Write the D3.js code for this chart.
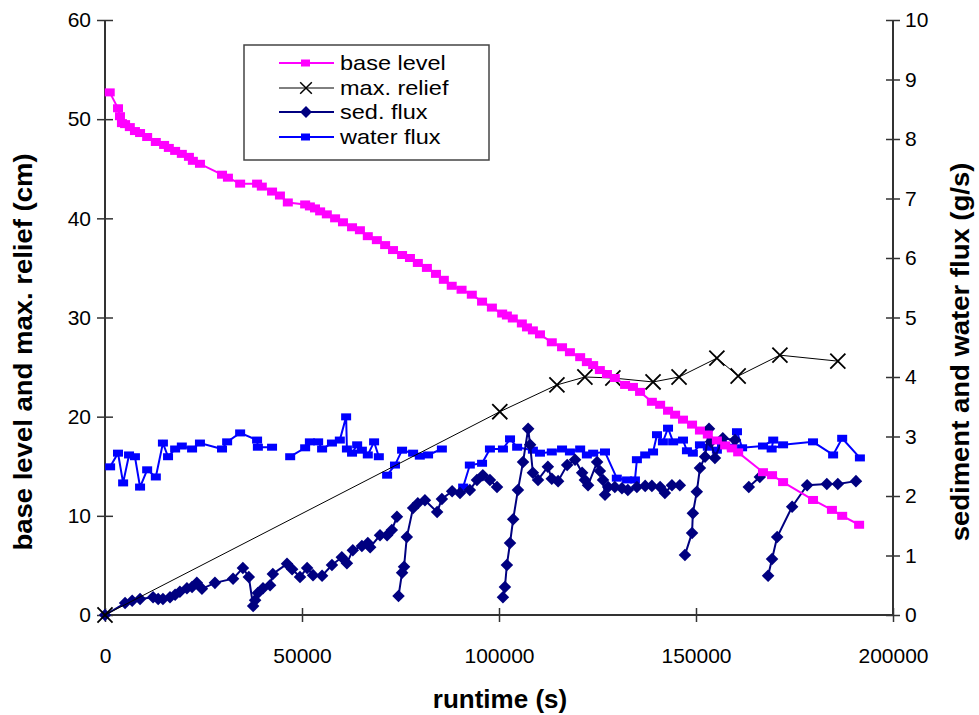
<!DOCTYPE html>
<html>
<head>
<meta charset="utf-8">
<script src="https://cdn.jsdelivr.net/npm/d3@7"></script>
<style>
  html, body { margin: 0; padding: 0; background: #fff; }
  svg { display: block; font-family: "Liberation Sans", Arial, sans-serif; }
</style>
</head>
<body>
<svg id="chart" width="979" height="715"></svg>
<script>
// Runtime (s) and base level (cm)
const baseTime = [1200,3300,3800,4300,5100,6300,7600,8900,10700,12900,15000,16200,17800,19500,21300,22300,24100,29700,31200,34300,38600,39800,42400,44400,46400,50800,52000,53300,54600,56300,58400,60400,62700,64700,66700,69000,71100,73100,75400,77400,79400,81700,84000,86000,88000,90500,93100,95700,98200,100800,102000,103500,105800,107100,108600,110400,113400,116000,118000,120600,122300,123900,125600,127400,129400,132000,134000,135800,138800,140900,142900,144700,146700,149000,151000,153000,155300,157400,159100,160700,167000,169300,172100,179700,184500,187100,191400];
const baseLevel = [52.7,51.1,50.3,49.6,49.5,49.2,48.8,48.6,48.2,47.7,47.4,47.1,46.8,46.5,46.2,45.8,45.5,44.4,44.1,43.5,43.5,43.2,42.7,42.3,41.6,41.4,41.2,41.0,40.7,40.4,40.0,39.6,39.1,38.8,38.2,37.8,37.3,36.8,36.3,36.0,35.5,35.0,34.4,33.8,33.2,32.8,32.3,31.6,31.0,30.4,30.2,29.9,29.4,29.0,28.7,28.3,27.5,27.0,26.5,26.0,25.5,25.2,24.7,24.3,23.9,23.2,23.0,22.5,21.5,21.2,20.6,20.2,19.7,19.2,18.6,18.2,17.6,17.1,16.8,16.4,14.4,14.1,13.4,11.6,10.6,10.0,9.1];

// Maximum relief (cm)
const reliefTime = [0,100200,114700,121800,128900,139100,145700,155300,160700,171300,186000];
const reliefVal = [0,20.5,23.2,24.0,23.9,23.5,24.0,25.9,24.1,26.2,25.6];

// Sediment flux (g/s); null marks a break between runs
const sedTime = [0,5100,6900,8900,12200,13500,14700,16500,17800,19000,20800,22100,23300,24600,27900,32500,35000,36500,37600,38100,38800,40100,41900,42600,46200,47500,49500,51300,52800,55100,57600,60100,61400,62900,65200,66700,67300,69800,71600,72800,74100,
  null,74500,75400,75900,76600,78200,79400,81200,84300,85500,88100,90100,92600,94400,95900,97700,99500,
  null,101000,101500,102000,102800,103600,104800,106100,107400,107900,108600,109900,112400,113400,115000,117300,119300,121100,121800,122600,124900,125600,126400,126900,127700,129400,131200,132700,135000,137100,138800,140900,142100,143900,145900,
  null,147200,149000,149200,150200,151000,152300,153300,153800,154800,156800,159900,
  null,163400,166200,
  null,168300,169300,170600,174400,178200,183200,186000,190600];
const sedVal = [0,0.20,0.24,0.27,0.30,0.27,0.27,0.30,0.34,0.39,0.45,0.47,0.54,0.44,0.54,0.61,0.79,0.64,0.15,0.25,0.37,0.45,0.50,0.69,0.86,0.77,0.64,0.79,0.67,0.66,0.84,0.97,0.87,1.09,1.16,1.21,1.14,1.34,1.34,1.43,1.65,
  null,0.32,0.71,0.81,1.31,1.80,1.88,1.93,1.73,1.95,2.08,2.05,2.10,2.27,2.35,2.27,2.15,
  null,0.30,0.47,0.84,1.21,1.61,2.10,2.57,3.13,2.86,2.39,2.27,2.49,2.29,2.25,2.52,2.61,2.39,2.27,2.18,2.57,2.42,2.27,2.02,2.15,2.15,2.13,2.10,2.15,2.17,2.17,2.15,2.05,2.18,2.18,
  null,1.01,1.38,1.71,2.07,2.47,2.66,3.13,2.91,2.64,2.97,2.94,
  null,2.15,2.32,
  null,0.66,0.94,1.31,1.82,2.18,2.20,2.20,2.25];

// Water flux (g/s); null marks a break between runs
const waterTime = [1300,3300,4600,6100,7600,8900,10700,12900,14700,16000,17800,19500,22100,24100,29700,31000,34300,38600,38800,42400,
  null,47000,50800,52000,54100,55100,57600,59600,61200,61400,62700,64000,65200,66700,68300,69500,
  null,71600,73600,75400,78200,79900,82000,85500,
  null,90900,92600,95700,97700,101000,102800,104600,108600,110400,113400,116000,118000,120600,122300,123900,126900,129900,132500,134500,135000,137100,139100,140100,141600,142900,144200,146700,147700,149200,151000,153000,155300,156600,159100,160400,161700,167000,169600,169200,172100,179700,184800,187100,191600];
const waterVal = [2.49,2.72,2.22,2.69,2.66,2.15,2.44,2.32,2.89,2.66,2.79,2.84,2.79,2.89,2.79,2.91,3.06,2.94,2.82,2.82,
  null,2.66,2.81,2.91,2.91,2.79,2.89,2.94,3.33,2.79,2.72,2.86,2.77,2.69,2.91,2.66,
  null,2.35,2.52,2.77,2.72,2.67,2.69,2.79,
  null,2.15,2.52,2.55,2.79,2.79,2.96,2.82,2.77,2.72,2.74,2.79,2.74,2.79,2.69,2.72,2.74,2.30,2.27,2.27,2.61,2.69,2.74,3.03,2.91,3.14,2.91,2.94,2.76,2.72,2.86,2.82,2.77,2.87,2.82,3.08,2.81,2.84,2.94,2.79,2.86,2.91,2.69,2.97,2.64];

// Axis ticks and labels
const xTicks = [0,50000,100000,150000,200000];
const yLeftTicks = [0,10,20,30,40,50,60];
const yRightTicks = [0,1,2,3,4,5,6,7,8,9,10];
const legendLabels = ["base level","max. relief","sed. flux","water flux"];

const svg = d3.select("#chart");
const plotLeft = 105, plotRight = 893, plotTop = 20, plotBottom = 615;

const x = d3.scaleLinear().domain([0,200000]).range([plotLeft,plotRight]);
const yL = d3.scaleLinear().domain([0,60]).range([plotBottom,plotTop]);
const yR = d3.scaleLinear().domain([0,10]).range([plotBottom,plotTop]);

const zip = (a,b) => a.map((t,i) => [t,b[i]]);
const baseData = zip(baseTime, baseLevel);
const reliefData = zip(reliefTime, reliefVal);
const sedData = zip(sedTime, sedVal);
const waterData = zip(waterTime, waterVal);

const axisColor = "#333";
const tickFont = 21;

// Axes: left, bottom, right (no top frame)
const axisG = svg.append("g");
const bottomAxis = d3.axisBottom(x).tickValues(xTicks).tickSize(0).tickFormat(d3.format("d"));
const gx = axisG.append("g").attr("transform", `translate(0,${plotBottom})`).call(bottomAxis);
gx.select(".domain").remove();
gx.selectAll("text").attr("font-size", tickFont).attr("fill","#000").attr("dy", null).attr("y", 48);
gx.selectAll(".tick").append("line").attr("y1",-7).attr("y2",7).attr("stroke",axisColor).attr("stroke-width",1.5);

const leftAxis = d3.axisLeft(yL).tickValues(yLeftTicks).tickSize(0);
const gl = axisG.append("g").attr("transform", `translate(${plotLeft},0)`).call(leftAxis);
gl.select(".domain").remove();
gl.selectAll("text").attr("font-size", tickFont).attr("fill","#000").attr("x", -14);
gl.selectAll(".tick").append("line").attr("x1",-8).attr("x2",8).attr("stroke",axisColor).attr("stroke-width",1.5);

const rightAxis = d3.axisRight(yR).tickValues(yRightTicks).tickSize(0);
const gr = axisG.append("g").attr("transform", `translate(${plotRight},0)`).call(rightAxis);
gr.select(".domain").remove();
gr.selectAll("text").attr("font-size", tickFont).attr("fill","#000").attr("x", 12);
gr.selectAll(".tick").append("line").attr("x1",-7).attr("x2",7).attr("stroke",axisColor).attr("stroke-width",1.5);

axisG.append("line").attr("x1",plotLeft).attr("x2",plotLeft).attr("y1",plotTop).attr("y2",plotBottom).attr("stroke",axisColor).attr("stroke-width",2);
axisG.append("line").attr("x1",plotRight).attr("x2",plotRight).attr("y1",plotTop).attr("y2",plotBottom).attr("stroke",axisColor).attr("stroke-width",2);
axisG.append("line").attr("x1",plotLeft).attr("x2",plotRight).attr("y1",plotBottom).attr("y2",plotBottom).attr("stroke",axisColor).attr("stroke-width",2);

// Axis titles
svg.append("text").attr("x", 500).attr("y", 708).attr("text-anchor","middle")
  .attr("font-size", 26).attr("font-weight","bold").text("runtime (s)");
svg.append("text").attr("transform", `translate(32,352) rotate(-90) scale(1.1,1)`).attr("text-anchor","middle")
  .attr("font-size", 25).attr("font-weight","bold").text("base level and max. relief (cm)");
svg.append("text").attr("transform", `translate(969,352) rotate(-90) scale(1.1,1)`).attr("text-anchor","middle")
  .attr("font-size", 25).attr("font-weight","bold").text("sediment and water flux (g/s)");

// Series
const lineL = d3.line().defined(d => d[1] != null).x(d => x(d[0])).y(d => yL(d[1]));
const lineR = d3.line().defined(d => d[1] != null).x(d => x(d[0])).y(d => yR(d[1]));

const diamond = d3.symbol().type(d3.symbolDiamond2).size(100);
const cross = d3.symbol().type(d3.symbolX).size(150);

function drawSquares(g, data, yScale, color, w, h) {
  g.selectAll("rect.m").data(data.filter(d => d[1] != null)).join("rect")
    .attr("x", d => x(d[0]) - w/2).attr("y", d => yScale(d[1]) - h/2)
    .attr("width", w).attr("height", h).attr("fill", color);
}

// water flux
const gw = svg.append("g");
gw.append("path").datum(waterData).attr("d", lineR).attr("fill","none").attr("stroke","#0000FF").attr("stroke-width",2);
drawSquares(gw, waterData, yR, "#0000FF", 10, 7);

// sediment flux
const gs = svg.append("g");
gs.append("path").datum(sedData).attr("d", lineR).attr("fill","none").attr("stroke","#000080").attr("stroke-width",2);
gs.selectAll("path.m").data(sedData.filter(d => d[1] != null)).join("path").attr("class","m")
  .attr("transform", d => `translate(${x(d[0])},${yR(d[1])})`).attr("d", diamond).attr("fill","#000080");

// max relief
const gm = svg.append("g");
gm.append("path").datum(reliefData).attr("d", lineL).attr("fill","none").attr("stroke","#000").attr("stroke-width",1);
gm.selectAll("path.m").data(reliefData).join("path").attr("class","m")
  .attr("transform", d => `translate(${x(d[0])},${yL(d[1])})`).attr("d", cross).attr("fill","none").attr("stroke","#000").attr("stroke-width",1.8);

// base level
const gb = svg.append("g");
gb.append("path").datum(baseData).attr("d", lineL).attr("fill","none").attr("stroke","#FF00FF").attr("stroke-width",2);
drawSquares(gb, baseData, yL, "#FF00FF", 10, 8);

// Legend
const lg = svg.append("g");
lg.append("rect").attr("x",244).attr("y",45).attr("width",245).attr("height",115)
  .attr("fill","#fff").attr("stroke","#444").attr("stroke-width",1.5);
const rowY = [63,88,112,137];
const legColors = ["#FF00FF","#000","#000080","#0000FF"];
legendLabels.forEach((lab,i) => {
  const yy = rowY[i];
  lg.append("line").attr("x1",279).attr("x2",334).attr("y1",yy).attr("y2",yy)
    .attr("stroke",legColors[i]).attr("stroke-width", i===1 ? 1 : 2);
  if (i===0 || i===3) {
    lg.append("rect").attr("x",301).attr("y",yy-3.5).attr("width",9).attr("height",7).attr("fill",legColors[i]);
  } else if (i===1) {
    lg.append("path").attr("transform",`translate(306,${yy})`).attr("d", d3.symbol().type(d3.symbolX).size(90)).attr("fill","none").attr("stroke","#000").attr("stroke-width",1.5);
  } else {
    lg.append("path").attr("transform",`translate(306,${yy})`).attr("d", d3.symbol().type(d3.symbolDiamond2).size(90)).attr("fill",legColors[i]);
  }
  lg.append("text").attr("transform",`translate(340,${yy+7}) scale(1.12,1)`)
    .attr("font-size",21).attr("fill","#000").text(lab);
});
</script>
</body>
</html>
